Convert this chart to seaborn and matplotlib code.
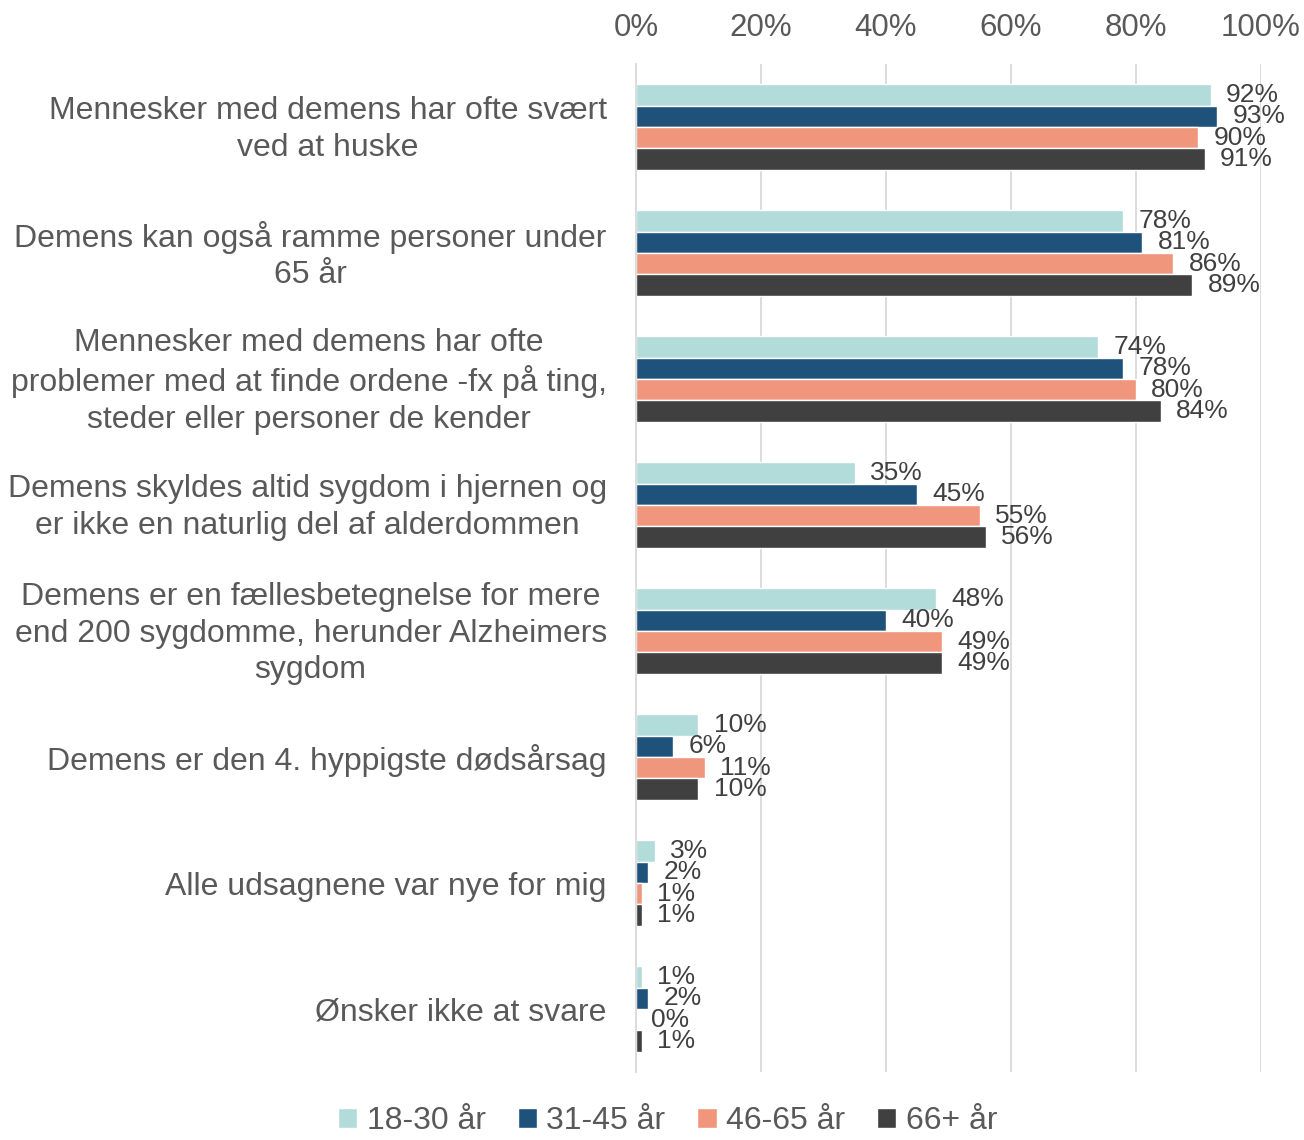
import matplotlib
matplotlib.use("Agg")
import matplotlib.pyplot as plt
import matplotlib.transforms as mtransforms
import seaborn as sns
import pandas as pd

categories = [
    "Mennesker med demens har ofte svært\nved at huske",
    "Demens kan også ramme personer under\n65 år",
    "Mennesker med demens har ofte\nproblemer med at finde ordene -fx på ting,\nsteder eller personer de kender",
    "Demens skyldes altid sygdom i hjernen og\ner ikke en naturlig del af alderdommen",
    "Demens er en fællesbetegnelse for mere\nend 200 sygdomme, herunder Alzheimers\nsygdom",
    "Demens er den 4. hyppigste dødsårsag",
    "Alle udsagnene var nye for mig",
    "Ønsker ikke at svare",
]
groups = ["18-30 år", "31-45 år", "46-65 år", "66+ år"]
v_18_30 = [92, 78, 74, 35, 48, 10, 3, 1]
v_31_45 = [93, 81, 78, 45, 40, 6, 2, 2]
v_46_65 = [90, 86, 80, 55, 49, 11, 1, 0]
v_66 = [91, 89, 84, 56, 49, 10, 1, 1]
colors = ["#B1DCD9", "#1F527A", "#F0967C", "#404040"]

rows = []
for g, vals in zip(groups, [v_18_30, v_31_45, v_46_65, v_66]):
    for c, v in zip(categories, vals):
        rows.append({"cat": c, "grp": g, "val": v})
df = pd.DataFrame(rows)

sns.set_theme(style="white")
plt.rcParams["font.family"] = ["Liberation Sans", "DejaVu Sans"]

fig = plt.figure(figsize=(13.04, 11.4), dpi=100)
ax = fig.add_axes([0.4877, 0.0596, 0.4793, 0.8843])
sns.barplot(data=df, y="cat", x="val", hue="grp", order=categories,
            hue_order=groups, palette=colors, orient="h", width=0.68,
            saturation=1, ax=ax, legend=True)

ax.set_xlim(0, 100)
ax.set_ylim(7.5, -0.5)
ax.set_xticks([0, 20, 40, 60, 80, 100])
ax.set_xticklabels([f"{t}%" for t in [0, 20, 40, 60, 80, 100]])
ax.xaxis.tick_top()
ax.tick_params(axis="x", length=0, pad=15, labelsize=22.5, labelcolor="#595959")
ax.tick_params(axis="y", length=0, pad=21, labelsize=23, labelcolor="#595959")
for lbl in ax.get_yticklabels():
    lbl.set_multialignment("center")
    lbl.set_linespacing(1.27)
    if "\n" in lbl.get_text():
        lbl.set_transform(lbl.get_transform() +
                          mtransforms.ScaledTranslation(0, 4 / 100, fig.dpi_scale_trans))
ax.set_xlabel("")
ax.set_ylabel("")
ax.grid(axis="x", color="#D9D9D9", linewidth=1.3)
ax.set_axisbelow(True)
for s in ["top", "right", "bottom"]:
    ax.spines[s].set_visible(False)
ax.spines["left"].set_color("#D9D9D9")
ax.spines["left"].set_linewidth(1.3)

for cont in ax.containers:
    ax.bar_label(cont, labels=[f"{int(v)}%" for v in cont.datavalues],
                 padding=11, fontsize=19, color="#404040")

h, l = ax.get_legend_handles_labels()
ax.get_legend().remove()
fig.legend(h, l, loc="lower center", bbox_to_anchor=(0.512, -0.022), ncol=4,
           frameon=False, fontsize=23, labelcolor="#595959",
           handlelength=0.6, handleheight=0.6, handletextpad=0.3, columnspacing=1.0)

fig.savefig("out.png", dpi=100)
